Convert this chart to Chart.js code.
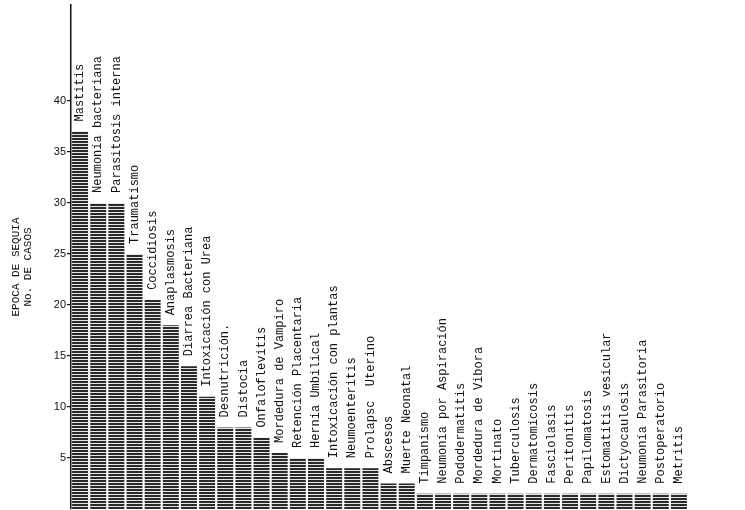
<!DOCTYPE html>
<html>
<head>
<meta charset="utf-8">
<script src="https://cdn.jsdelivr.net/npm/chart.js@4"></script>
<style>
  html, body { margin: 0; padding: 0; background: #fff; }
  #wrap { width: 745px; height: 510px; }
</style>
</head>
<body>
<div id="wrap"><canvas id="chart" width="745" height="510"></canvas></div>
<script>
// Enfermedades - época de sequía
const categories = [
  'Mastitis', 'Neumonía bacteriana', 'Parasitosis interna', 'Traumatismo',
  'Coccidiosis', 'Anaplasmosis', 'Diarrea Bacteriana', 'Intoxicación con Urea',
  'Desnutrición.', 'Distocia', 'Onfaloflevitis', 'Mordedura de Vampiro',
  'Retención Placentaria', 'Hernia Umbilical', 'Intoxicación con plantas',
  'Neumoenteritis', 'Prolapsc  Uterino', 'Abscesos', 'Muerte Neonatal',
  'Timpanismo', 'Neumonía por Aspiración', 'Pododermatitis', 'Mordedura de Vibora',
  'Mortinato', 'Tuberculosis', 'Dermatomicosis', 'Fasciolasis', 'Peritonitis',
  'Papilomatosis', 'Estomatitis vesicular', 'Dictyocaulosis',
  'Neumonía Parasitoria', 'Postoperatorio', 'Metritis'
];
const casos = [
  37, 30, 30, 25,
  20.5, 18, 14, 11,
  8, 8, 7, 5.5,
  5, 5, 4,
  4, 4, 2.5, 2.5,
  1.5, 1.5, 1.5, 1.5,
  1.5, 1.5, 1.5, 1.5, 1.5,
  1.5, 1.5, 1.5,
  1.5, 1.5, 1.5
];
const yTicks = [5, 10, 15, 20, 25, 30, 35, 40];
const axisTitle = ['EPOCA DE SEQUIA', 'No. DE CASOS'];

// rayado horizontal de las barras
const makeHatch = () => {
  const c = document.createElement('canvas');
  c.width = 6;
  c.height = 3;
  const g = c.getContext('2d');
  g.fillStyle = '#e6e6e6';
  g.fillRect(0, 0, 6, 3);
  g.fillStyle = '#2a2a2a';
  g.fillRect(0, 0, 6, 2);
  return g.createPattern(c, 'repeat');
};

const barLabels = {
  id: 'barLabels',
  afterDatasetsDraw(chart) {
    const ctx = chart.ctx;
    const meta = chart.getDatasetMeta(0);
    ctx.save();
    ctx.fillStyle = '#111';
    ctx.font = '12px "Liberation Mono", "DejaVu Sans Mono", monospace';
    ctx.textAlign = 'left';
    ctx.textBaseline = 'middle';
    meta.data.forEach((bar, i) => {
      ctx.save();
      ctx.translate(bar.x, bar.y - 10);
      ctx.rotate(-Math.PI / 2);
      ctx.fillText(categories[i], 0, 0);
      ctx.restore();
    });

    // título del eje y
    ctx.textAlign = 'center';
    ctx.font = '11px "Liberation Mono", "DejaVu Sans Mono", monospace';
    axisTitle.forEach((t, i) => {
      ctx.save();
      ctx.translate(16 + i * 12, 267);
      ctx.rotate(-Math.PI / 2);
      ctx.fillText(t, 0, 0);
      ctx.restore();
    });
    ctx.restore();
  }
};

new Chart(document.getElementById('chart'), {
  type: 'bar',
  data: {
    labels: categories,
    datasets: [{
      data: casos,
      backgroundColor: makeHatch(),
      borderWidth: 0,
      barPercentage: 0.88,
      categoryPercentage: 1.0,
    }],
  },
  options: {
    responsive: false,
    animation: false,
    layout: { padding: { top: 5, right: 57, bottom: 1, left: 0 } },
    plugins: {
      legend: { display: false },
      tooltip: { enabled: false },
    },
    scales: {
      x: {
        display: false,
      },
      y: {
        min: 0,
        max: 49.4,
        afterFit: (scale) => {
          scale.width = 71;
          scale.paddingTop = 0;
          scale.paddingBottom = 0;
        },
        afterBuildTicks: (scale) => {
          scale.ticks = yTicks.map((v) => ({ value: v }));
        },
        border: { display: true, color: '#111', width: 1.5 },
        grid: {
          drawOnChartArea: false,
          drawTicks: true,
          tickLength: 4,
          color: '#111',
          lineWidth: 1.2,
        },
        ticks: {
          color: '#111',
          padding: 1,
          font: { family: '"Liberation Sans", Arial, sans-serif', size: 11 },
        },
      },
    },
  },
  plugins: [barLabels],
});
</script>
</body>
</html>
